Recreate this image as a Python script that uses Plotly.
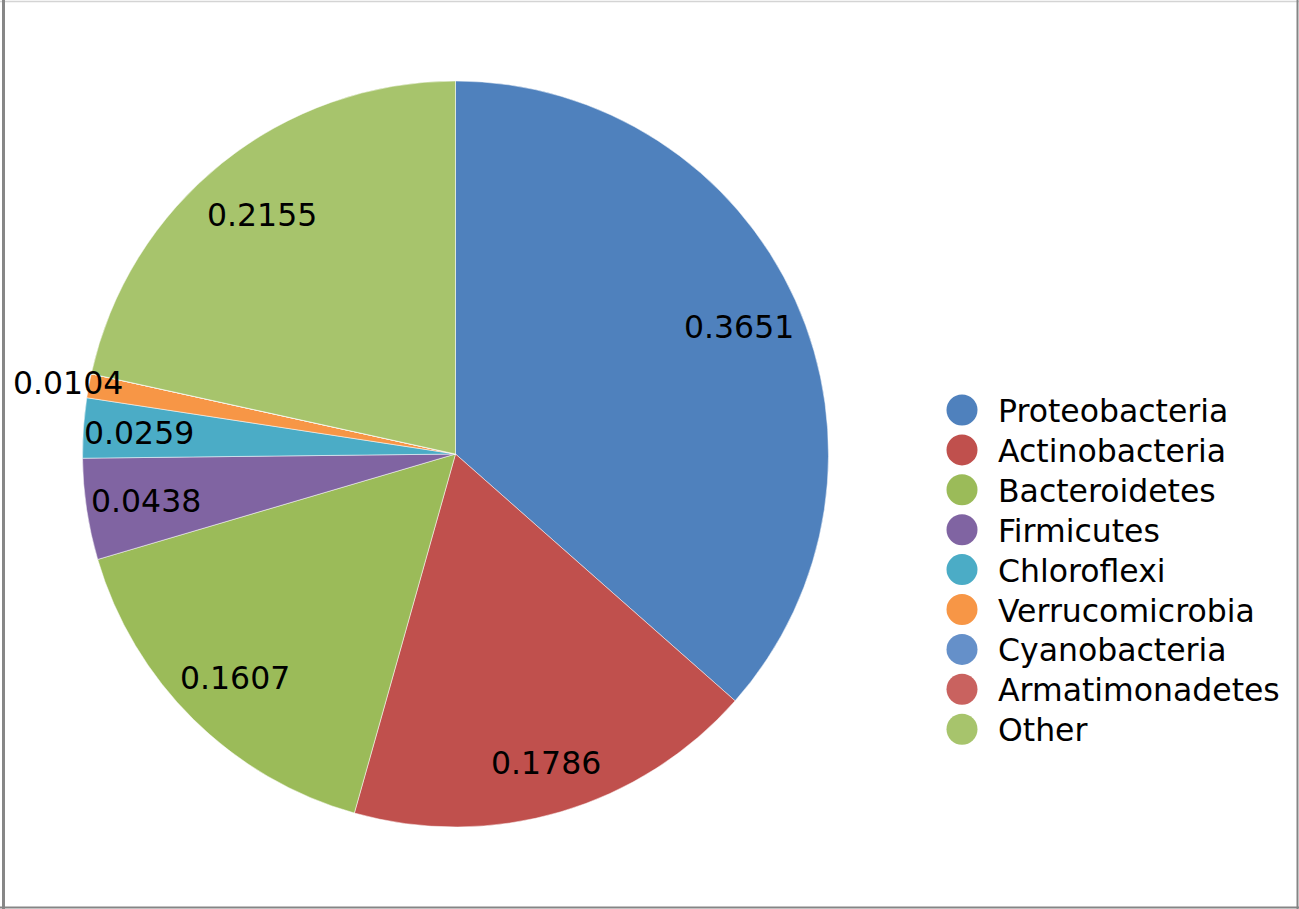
import math
import plotly.graph_objects as go

# ---- data ----
categories = ["Proteobacteria", "Actinobacteria", "Bacteroidetes", "Firmicutes",
              "Chloroflexi", "Verrucomicrobia", "Cyanobacteria", "Armatimonadetes", "Other"]
values = [0.3651, 0.1786, 0.1607, 0.0438, 0.0259, 0.0104, 0.0, 0.0, 0.2155]

# ---- style ----
colors = ["#4F81BD", "#C0504D", "#9BBB59", "#8064A2", "#4BACC6",
          "#F79646", "#6590C9", "#C9625F", "#A7C46C"]
label_radius_frac = [0.835, 0.86, 0.84, 0.84, 0.85, 1.057, 0.84, 0.84, 0.826]

W, H = 1299, 909
CX, CY, R = 455.5, 454.0, 373.0  # pixel centre (from top-left) and radius
FONT = "DejaVu Sans"
FS = 31.5

fig = go.Figure()
fig.add_trace(go.Pie(
    labels=categories,
    values=values,
    sort=False,
    direction="clockwise",
    rotation=0,
    marker=dict(colors=colors, line=dict(color="white", width=0.5)),
    textinfo="none",
    hoverinfo="label+value",
    showlegend=False,
    domain=dict(x=[(CX - R) / W, (CX + R) / W],
                y=[(H - CY - R) / H, (H - CY + R) / H]),
))

annotations = []
shapes = []

# slice value labels, positioned from the cumulative values
total = sum(values)
cum = 0.0
for v, f in zip(values, label_radius_frac):
    mid = (cum + v / 2) / total * 2 * math.pi
    cum += v
    if v <= 0:
        continue
    px = CX + R * f * math.sin(mid)
    py = CY - R * f * math.cos(mid) + 1
    annotations.append(dict(
        x=px / W, y=1 - py / H, xref="paper", yref="paper",
        text=f"{v:.4f}", showarrow=False, xanchor="center", yanchor="middle",
        font=dict(family=FONT, size=FS, color="black"),
    ))

# custom legend with large circular markers
LX, LY0, LDY, LD = 962.0, 410.0, 39.9, 31.0
for i, (name, col) in enumerate(zip(categories, colors)):
    y = LY0 + i * LDY
    shapes.append(dict(
        type="circle", xref="paper", yref="paper",
        xsizemode="pixel", ysizemode="pixel",
        xanchor=LX / W, yanchor=1 - y / H,
        x0=-LD / 2, x1=LD / 2, y0=-LD / 2, y1=LD / 2,
        fillcolor=col, line=dict(width=0),
    ))
    annotations.append(dict(
        x=996 / W, y=1 - (y + 1) / H, xref="paper", yref="paper",
        text=name, showarrow=False, xanchor="left", yanchor="middle",
        font=dict(family=FONT, size=FS, color="black"),
    ))

# frame lines
shapes += [
    dict(type="line", xref="paper", yref="paper", x0=0, x1=1, y0=1 - 1.5 / H, y1=1 - 1.5 / H,
         line=dict(color="#d4d4d4", width=1.5)),
    dict(type="line", xref="paper", yref="paper", x0=3.5 / W, x1=3.5 / W, y0=0, y1=1,
         line=dict(color="#878787", width=3)),
    dict(type="line", xref="paper", yref="paper", x0=0, x1=1, y0=1.5 / H, y1=1.5 / H,
         line=dict(color="#858585", width=2)),
    dict(type="line", xref="paper", yref="paper", x0=1 - 1.5 / W, x1=1 - 1.5 / W, y0=0, y1=1,
         line=dict(color="#858585", width=2)),
]

fig.update_layout(
    width=W, height=H,
    margin=dict(l=0, r=0, t=0, b=0),
    paper_bgcolor="white", plot_bgcolor="white",
    font=dict(family=FONT, size=FS, color="black"),
    annotations=annotations, shapes=shapes,
    showlegend=False,
)

fig.write_html("out.html")
